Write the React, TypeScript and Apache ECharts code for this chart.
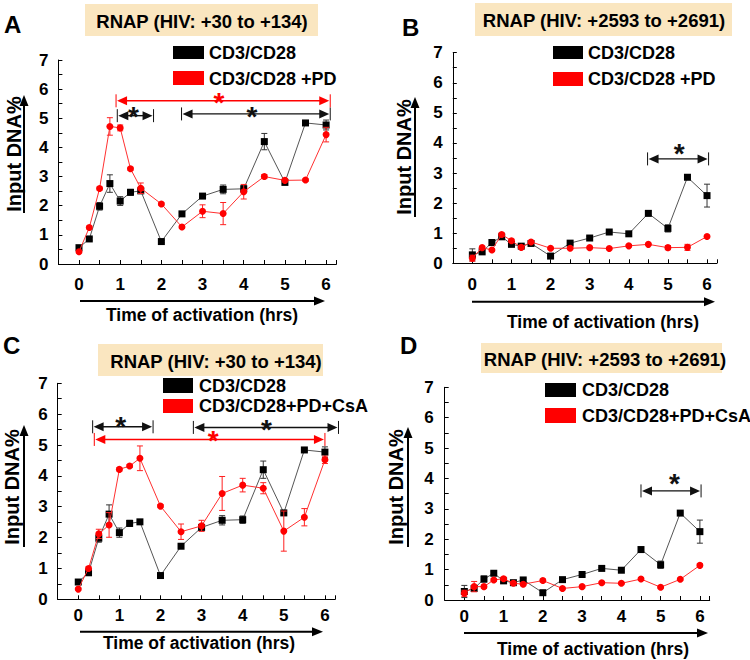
import React, { useEffect, useRef } from "react";
import * as echarts from "echarts";

const FONT = "'Liberation Sans', Arial, Helvetica, sans-serif";

// time points (hrs)
const times = [0, 0.25, 0.5, 0.75, 1, 1.25, 1.5, 2, 2.5, 3, 3.5, 4, 4.5, 5, 5.5, 6];
const xTickLabels = ["0", "1", "2", "3", "4", "5", "6"];
const yTickLabels = ["0", "1", "2", "3", "4", "5", "6", "7"];

// RNAP (HIV: +30 to +134) — CD3/CD28 (panels A and C)
const proxBlack = [0.56, 0.86, 1.98, 2.76, 2.16, 2.46, 2.51, 0.77, 1.72, 2.33, 2.56, 2.58, 4.2, 2.8, 4.84, 4.77];
const proxBlackErr = [0.05, 0.05, 0.13, 0.3, 0.15, 0.1, 0.05, 0.04, 0.05, 0.05, 0.15, 0.12, 0.28, 0.05, 0.05, 0.17];
// Panel A — CD3/CD28 +PD
const aRed = [0.42, 1.25, 2.59, 4.72, 4.67, 3.27, 2.6, 2.06, 1.27, 1.81, 1.73, 2.48, 3.0, 2.87, 2.88, 4.44];
const aRedErr = [0.03, 0.05, 0.05, 0.3, 0.1, 0.05, 0.18, 0.04, 0.04, 0.22, 0.38, 0.25, 0.07, 0.05, 0.04, 0.25];
// Panel C — CD3/CD28+PD+CsA
const cRed = [0.33, 1.0, 2.12, 2.41, 4.21, 4.32, 4.57, 3.02, 2.19, 2.38, 3.43, 3.7, 3.6, 2.21, 2.66, 4.52];
const cRedErr = [0.03, 0.05, 0.15, 0.4, 0.05, 0.05, 0.4, 0.05, 0.25, 0.18, 0.55, 0.22, 0.18, 0.65, 0.28, 0.12];

// RNAP (HIV: +2593 to +2691) — CD3/CD28 (panels B and D)
const distBlack = [0.28, 0.38, 0.69, 0.88, 0.63, 0.57, 0.66, 0.24, 0.67, 0.84, 1.04, 0.98, 1.66, 1.16, 2.86, 2.25];
const distBlackErr = [0.2, 0.05, 0.1, 0.05, 0.07, 0.05, 0.05, 0.03, 0.03, 0.05, 0.03, 0.03, 0.08, 0.12, 0.03, 0.38];
// Panel B — CD3/CD28 +PD
const bRed = [0.17, 0.52, 0.44, 0.96, 0.75, 0.53, 0.71, 0.5, 0.5, 0.52, 0.49, 0.58, 0.63, 0.52, 0.53, 0.89];
const bRedErr = [0.1, 0.04, 0.05, 0.05, 0.05, 0.04, 0.03, 0.03, 0.03, 0.03, 0.03, 0.03, 0.03, 0.07, 0.1, 0.04];
// Panel D — CD3/CD28+PD+CsA
const dRed = [0.22, 0.44, 0.44, 0.66, 0.7, 0.55, 0.52, 0.64, 0.38, 0.44, 0.57, 0.55, 0.69, 0.42, 0.68, 1.14];
const dRedErr = [0.1, 0.17, 0.05, 0.05, 0.05, 0.05, 0.05, 0.05, 0.03, 0.03, 0.03, 0.03, 0.03, 0.03, 0.03, 0.05];

// significance brackets: [from hr, to hr, level, star hr, star level]
const aSigBlack = [[0.93, 1.81, 5.09, 1.32, 5.28], [2.49, 6.1, 5.15, 4.2, 5.28]];
const aSigRed = [[0.9, 6.1, 5.6, 3.4, 5.78]];
const bSigBlack = [[4.48, 6.04, 3.47, 5.29, 3.88]];
const cSigBlack = [[0.35, 1.82, 5.59, 1.03, 5.81], [2.8, 6.33, 5.57, 4.58, 5.7]];
const cSigRed = [[0.39, 6.0, 5.18, 3.28, 5.36]];
const dSigBlack = [[4.5, 6.03, 3.59, 5.35, 4.06]];

const titles = ["RNAP (HIV: +30 to +134)", "RNAP (HIV: +2593 to +2691)", "RNAP (HIV: +30 to +134)", "RNAP (HIV: +2593 to +2691)"];
const letters = ["A", "B", "C", "D"];
const blackName = "CD3/CD28";
const redNames = ["CD3/CD28 +PD", "CD3/CD28 +PD", "CD3/CD28+PD+CsA", "CD3/CD28+PD+CsA"];
const yName = "Input DNA%";
const xName = "Time of activation (hrs)";

const panelData = [
  { black: proxBlack, blackErr: proxBlackErr, red: aRed, redErr: aRedErr, sigBlack: aSigBlack, sigRed: aSigRed },
  { black: distBlack, blackErr: distBlackErr, red: bRed, redErr: bRedErr, sigBlack: bSigBlack, sigRed: [] as number[][] },
  { black: proxBlack, blackErr: proxBlackErr, red: cRed, redErr: cRedErr, sigBlack: cSigBlack, sigRed: cSigRed },
  { black: distBlack, blackErr: distBlackErr, red: dRed, redErr: dRedErr, sigBlack: dSigBlack, sigRed: [] as number[][] },
];

// layout (pixels)
const layouts = [
  {
    grid: { left: 58.4, top: 60, width: 278, height: 204 }, xMargin: 12, yMargin: 10,
    box: [85, 4, 233, 32], titleC: [202, 21], letter: [4, 24],
    legBlack: [173, 46, 31, 13], legRed: [173, 71, 31, 14], legX: 209, legCy: [52.5, 78.5],
    yLabel: [14, 154], yArrow: [24, 213, 95], xArrow: [301, 80, 325], xTitle: [202, 315],
  },
  {
    grid: { left: 452.8, top: 52.7, width: 264, height: 210.6 }, xMargin: 13, yMargin: 10,
    box: [475, 3, 257, 33], titleC: [604, 20.5], letter: [402, 27],
    legBlack: [553, 46, 30, 13], legRed: [553, 72, 30, 14], legX: 588, legCy: [52.7, 79],
    yLabel: [404, 157], yArrow: [415, 217, 97], xArrow: [301.7, 472, 715], xTitle: [603, 321.7],
  },
  {
    grid: { left: 57.7, top: 383.3, width: 277.5, height: 216 }, xMargin: 8, yMargin: 10,
    box: [98, 344, 225, 32], titleC: [216, 361], letter: [3, 345],
    legBlack: [163, 378, 30, 15], legRed: [163, 399, 30, 14], legX: 199, legCy: [386, 406],
    yLabel: [12, 487], yArrow: [24, 547, 425], xArrow: [631.7, 80, 323], xTitle: [199, 642.7],
  },
  {
    grid: { left: 444.7, top: 387.3, width: 265, height: 212.7 }, xMargin: 8, yMargin: 11,
    box: [481, 343, 241, 30], titleC: [605, 359], letter: [400, 345],
    legBlack: [545, 383, 31, 14], legRed: [545, 408, 31, 15], legX: 582, legCy: [390, 415.5],
    yLabel: [396, 487], yArrow: [408, 547, 427], xArrow: [633, 464, 708], xTitle: [593, 649.3],
  },
];

const RED = "#ff0000";
const BLACK = "#000000";

function errRender(color: string) {
  return (_params: any, api: any) => {
    const x = api.value(0), y = api.value(1), e = api.value(2);
    if (!e) return { type: "group", children: [] };
    const hi = api.coord([x, y + e]);
    const lo = api.coord([x, y - e]);
    const w = 3;
    const st = { stroke: color, lineWidth: 1 };
    return {
      type: "group",
      children: [
        { type: "line", shape: { x1: hi[0], y1: hi[1], x2: lo[0], y2: lo[1] }, style: st },
        { type: "line", shape: { x1: hi[0] - w, y1: hi[1], x2: hi[0] + w, y2: hi[1] }, style: st },
        { type: "line", shape: { x1: lo[0] - w, y1: lo[1], x2: lo[0] + w, y2: lo[1] }, style: st },
      ],
    };
  };
}

function sigRender(color: string) {
  return (_params: any, api: any) => {
    const x1 = api.value(0), x2 = api.value(1), y = api.value(2), sx = api.value(3), sy = api.value(4);
    const p1 = api.coord([x1, y]);
    const p2 = api.coord([x2, y]);
    const ps = api.coord([sx, sy]);
    const L = 10, H = 4.5, B = 6.5;
    const st = { stroke: color, lineWidth: 1.4 };
    return {
      type: "group",
      children: [
        { type: "line", shape: { x1: p1[0] + 4, y1: p1[1], x2: p2[0] - 4, y2: p2[1] }, style: st },
        { type: "polygon", shape: { points: [[p1[0] + 1, p1[1]], [p1[0] + 1 + L, p1[1] - H], [p1[0] + 1 + L, p1[1] + H]] }, style: { fill: color } },
        { type: "polygon", shape: { points: [[p2[0] - 1, p2[1]], [p2[0] - 1 - L, p2[1] - H], [p2[0] - 1 - L, p2[1] + H]] }, style: { fill: color } },
        { type: "line", shape: { x1: p1[0], y1: p1[1] - B, x2: p1[0], y2: p1[1] + B }, style: { stroke: color, lineWidth: 1 } },
        { type: "line", shape: { x1: p2[0], y1: p2[1] - B, x2: p2[0], y2: p2[1] + B }, style: { stroke: color, lineWidth: 1 } },
        {
          type: "text", x: ps[0], y: ps[1] + 6.5,
          style: { text: "*", fill: color, fontSize: 28, fontWeight: "bold", fontFamily: FONT, align: "center", verticalAlign: "middle" },
        },
      ],
    };
  };
}

function buildOption() {
  const grids: any[] = [];
  const xAxes: any[] = [];
  const yAxes: any[] = [];
  const series: any[] = [];
  const graphic: any[] = [];
  const labelStyle = { fontFamily: FONT, fontWeight: "bold", fontSize: 17, color: "#000" };
  const axisLine = { show: true, onZero: false, lineStyle: { color: "#000", width: 1 } };

  layouts.forEach((lay, i) => {
    const d = panelData[i];
    grids.push({ ...lay.grid, containLabel: false });
    xAxes.push({
      type: "value", gridIndex: i, min: -0.5, max: 6.25, interval: 0.5,
      axisLine, splitLine: { show: false },
      axisTick: { show: true, inside: true, length: 4, lineStyle: { color: "#000" } },
      axisLabel: {
        ...labelStyle, margin: lay.xMargin, showMinLabel: true, showMaxLabel: true,
        formatter: (v: number) => (Number.isInteger(v) && v >= 0 ? xTickLabels[v] ?? "" : ""),
      },
    });
    yAxes.push({
      type: "value", gridIndex: i, min: 0, max: 7, interval: 0.5,
      axisLine, splitLine: { show: false },
      axisTick: { show: true, inside: true, length: 4, lineStyle: { color: "#000" } },
      axisLabel: {
        ...labelStyle, margin: lay.yMargin,
        formatter: (v: number) => (Number.isInteger(v) ? yTickLabels[v] ?? "" : ""),
      },
    });

    const blackPts = times.map((t, k) => [t, d.black[k]]);
    const redPts = times.map((t, k) => [t, d.red[k]]);
    series.push({
      type: "custom", xAxisIndex: i, yAxisIndex: i, renderItem: errRender("#333"),
      data: times.map((t, k) => [t, d.black[k], d.blackErr[k]]), encode: { x: 0, y: 1 }, z: 2, silent: true,
    });
    series.push({
      type: "line", xAxisIndex: i, yAxisIndex: i, data: blackPts, symbol: "rect", symbolSize: 7,
      lineStyle: { color: "#555", width: 1 }, itemStyle: { color: BLACK }, z: 3, silent: true,
    });
    series.push({
      type: "custom", xAxisIndex: i, yAxisIndex: i, renderItem: errRender("#ff2020"),
      data: times.map((t, k) => [t, d.red[k], d.redErr[k]]), encode: { x: 0, y: 1 }, z: 4, silent: true,
    });
    series.push({
      type: "line", xAxisIndex: i, yAxisIndex: i, data: redPts, symbol: "circle", symbolSize: 7,
      lineStyle: { color: "#ff3030", width: 1 }, itemStyle: { color: RED }, z: 5, silent: true,
    });
    series.push({
      type: "custom", xAxisIndex: i, yAxisIndex: i, renderItem: sigRender("#111"),
      data: d.sigBlack, encode: { x: [0, 1, 3], y: [2, 4] }, z: 6, silent: true, clip: false,
    });
    if (d.sigRed.length) {
      series.push({
        type: "custom", xAxisIndex: i, yAxisIndex: i, renderItem: sigRender(RED),
        data: d.sigRed, encode: { x: [0, 1, 3], y: [2, 4] }, z: 6, silent: true, clip: false,
      });
    }

    const txt = (x: number, y: number, text: string, size: number, align = "left", extra: any = {}) => ({
      type: "text", x, y, silent: true, ...extra,
      style: { text, fill: "#000", fontSize: size, fontWeight: "bold", fontFamily: FONT, align, verticalAlign: "middle" },
    });

    // title box
    graphic.push({ type: "rect", silent: true, shape: { x: lay.box[0], y: lay.box[1], width: lay.box[2], height: lay.box[3] }, style: { fill: "#fae6c0" } });
    graphic.push(txt(lay.titleC[0], lay.titleC[1], titles[i], 18.5, "center"));
    graphic.push(txt(lay.letter[0], lay.letter[1], letters[i], 24, "left"));
    // legend
    graphic.push({ type: "rect", silent: true, shape: { x: lay.legBlack[0], y: lay.legBlack[1], width: lay.legBlack[2], height: lay.legBlack[3] }, style: { fill: BLACK } });
    graphic.push({ type: "rect", silent: true, shape: { x: lay.legRed[0], y: lay.legRed[1], width: lay.legRed[2], height: lay.legRed[3] }, style: { fill: RED } });
    graphic.push(txt(lay.legX, lay.legCy[0], blackName, 18, "left"));
    graphic.push(txt(lay.legX, lay.legCy[1], redNames[i], 18, "left"));
    // y label + arrow
    graphic.push(txt(lay.yLabel[0], lay.yLabel[1], yName, 20, "center", { rotation: Math.PI / 2 }));
    const [ax, ayb, ayt] = lay.yArrow;
    graphic.push({ type: "line", silent: true, shape: { x1: ax, y1: ayb, x2: ax, y2: ayt + 8 }, style: { stroke: "#000", lineWidth: 2 } });
    graphic.push({ type: "polygon", silent: true, shape: { points: [[ax, ayt], [ax - 4.5, ayt + 11], [ax + 4.5, ayt + 11]] }, style: { fill: "#000" } });
    // x arrow + title
    const [by, bxl, bxr] = lay.xArrow;
    graphic.push({ type: "line", silent: true, shape: { x1: bxl, y1: by, x2: bxr - 8, y2: by }, style: { stroke: "#000", lineWidth: 2 } });
    graphic.push({ type: "polygon", silent: true, shape: { points: [[bxr, by], [bxr - 11, by - 4.5], [bxr - 11, by + 4.5]] }, style: { fill: "#000" } });
    graphic.push(txt(lay.xTitle[0], lay.xTitle[1], xName, 17.5, "center"));
  });

  return {
    animation: false,
    backgroundColor: "#ffffff",
    grid: grids,
    xAxis: xAxes,
    yAxis: yAxes,
    series,
    graphic,
  };
}

export default function App() {
  const ref = useRef<HTMLDivElement>(null);
  useEffect(() => {
    if (!ref.current) return;
    const chart = echarts.init(ref.current, null, { renderer: "svg" });
    chart.setOption(buildOption() as any);
    return () => chart.dispose();
  }, []);
  return (
    <div
      ref={ref}
      style={{ position: "fixed", left: 0, top: 0, width: 750, height: 660, background: "#fff" }}
    />
  );
}
